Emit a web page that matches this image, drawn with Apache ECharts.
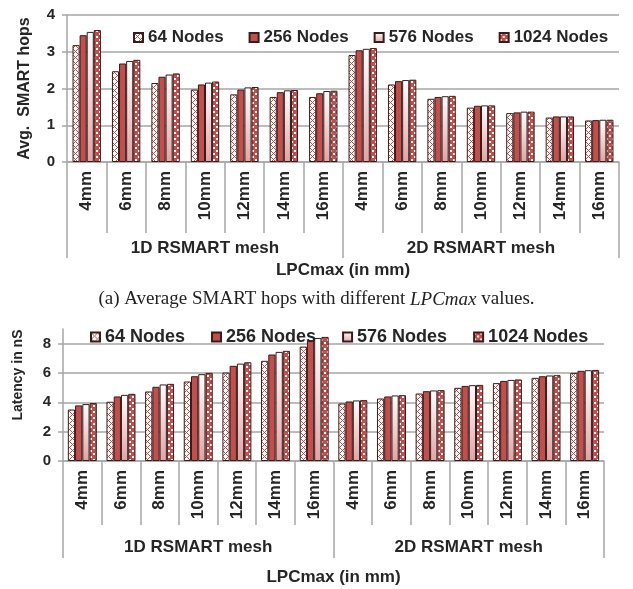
<!DOCTYPE html>
<html><head><meta charset="utf-8">
<script src="https://cdn.jsdelivr.net/npm/echarts@6/dist/echarts.min.js"></script>
<style>html,body{margin:0;padding:0;background:#fff}#c{width:633px;height:589px}</style>
</head><body><div id="c"></div>
<script>
const categories = ['4mm','6mm','8mm','10mm','12mm','14mm','16mm','4mm','6mm','8mm','10mm','12mm','14mm','16mm'];
const groups = ['1D RSMART mesh','2D RSMART mesh'];
const seriesNames = ['64 Nodes','256 Nodes','576 Nodes','1024 Nodes'];
const hops64   = [3.18,2.47,2.15,1.97,1.84,1.77,1.77, 2.91,2.11,1.72,1.48,1.33,1.21,1.13];
const hops256  = [3.45,2.68,2.32,2.11,1.97,1.90,1.87, 3.04,2.20,1.77,1.53,1.35,1.24,1.14];
const hops576  = [3.54,2.75,2.38,2.16,2.03,1.95,1.93, 3.08,2.23,1.79,1.54,1.37,1.24,1.15];
const hops1024 = [3.59,2.78,2.41,2.19,2.04,1.96,1.94, 3.10,2.24,1.80,1.54,1.37,1.24,1.15];
const lat64   = [3.51,4.04,4.74,5.42,6.03,6.83,7.80, 3.92,4.26,4.60,4.99,5.31,5.67,6.01];
const lat256  = [3.79,4.40,5.06,5.78,6.49,7.26,8.23, 4.06,4.40,4.76,5.12,5.46,5.78,6.15];
const lat576  = [3.88,4.51,5.22,5.92,6.64,7.44,8.39, 4.13,4.47,4.81,5.17,5.53,5.83,6.19];
const lat1024 = [3.95,4.58,5.26,6.01,6.73,7.51,8.46, 4.15,4.49,4.83,5.19,5.56,5.85,6.21];

const RED = '#C0504D', DARK = '#3a1a1a', GRID = '#a6a6a6', TXT = '#262626';
const FONT = "'Liberation Sans', Arial, sans-serif";

function pattern(kind){
  const c = document.createElement('canvas');
  c.width = 6; c.height = 6;
  const g = c.getContext('2d');
  if (kind === 'sparse') {
    g.fillStyle = '#fff'; g.fillRect(0,0,6,6);
    g.fillStyle = RED;
    for (let x = 0; x < 6; x++) for (let y = 0; y < 6; y++) {
      if ((x + y) % 6 === 0 || (x - y + 6) % 6 === 0) g.fillRect(x,y,1,1);
    }
  } else {
    g.fillStyle = RED; g.fillRect(0,0,6,6);
    g.fillStyle = '#fff'; g.fillRect(0,0,2,2); g.fillRect(3,3,2,2);
  }
  return {image: c, repeat: 'repeat'};
}
const styles = [
  {color: pattern('sparse'), borderColor: DARK, borderWidth: 1},
  {color: RED, borderColor: DARK, borderWidth: 1},
  {color: {type:'linear', x:0, y:0, x2:0, y2:1, colorStops:[{offset:0,color:'#ffffff'},{offset:1,color:'#e0a3a2'}]}, borderColor: DARK, borderWidth: 1},
  {color: pattern('dense'), borderColor: DARK, borderWidth: 1}
];

function catAxis(gridIndex, tickLen){
  return {type:'category', gridIndex, data: categories, position:'bottom',
    axisLine:{show:true, lineStyle:{color:GRID, width:1.5}},
    axisTick:{show:true, interval:0, length:tickLen, lineStyle:{color:GRID, width:1.5}},
    axisLabel:{interval:0, rotate:90, margin:9, color:TXT, fontFamily:FONT, fontWeight:'bold', fontSize:17}};
}
function groupAxis(gridIndex, tickLen, labelMargin, nameGap){
  return {type:'category', gridIndex, data: groups, position:'bottom',
    axisLine:{show:false},
    axisTick:{show:true, interval:0, length:tickLen, lineStyle:{color:GRID, width:1.5}},
    axisLabel:{interval:0, margin:labelMargin, color:TXT, fontFamily:FONT, fontWeight:'bold', fontSize:17},
    name:'LPCmax (in mm)', nameLocation:'middle', nameGap,
    nameTextStyle:{color:TXT, fontFamily:FONT, fontWeight:'bold', fontSize:17}};
}
function valAxis(gridIndex, max, interval, name, nameSize, nameGap, namePad){
  return {type:'value', gridIndex, min:0, max, interval,
    name, nameLocation:'middle', nameGap, nameRotate:90,
    nameTextStyle:{color:TXT, fontFamily:FONT, fontWeight:'bold', fontSize:nameSize, padding:namePad},
    axisLine:{show:true, lineStyle:{color:GRID, width:1.5}},
    axisTick:{show:true, length:5, lineStyle:{color:GRID, width:1.5}},
    axisLabel:{color:TXT, fontFamily:FONT, fontWeight:'bold', fontSize:15, margin:12, showMaxLabel: max % interval === 0},
    splitLine:{show:true, showMaxLine: max % interval === 0, lineStyle:{color:GRID, width:1.5}}};
}
function bars(data, xi, yi, gap){
  return data.map((d,i)=>({type:'bar', name:seriesNames[i], xAxisIndex:xi, yAxisIndex:yi, data:d,
    barGap:'0%', barCategoryGap:gap, itemStyle:styles[i], emphasis:{disabled:true}}));
}

const chart = echarts.init(document.getElementById('c'), null, {renderer:'canvas'});
chart.setOption({
  animation:false,
  backgroundColor:'#fff',
  title:{text:'(a) Average SMART hops with different {i|LPCmax} values.', left:'center', top:285,
    textStyle:{fontFamily:"'Liberation Serif','Times New Roman',serif", fontWeight:'normal', fontSize:19, color:'#222',
      rich:{i:{fontFamily:"'Liberation Serif','Times New Roman',serif", fontStyle:'italic', fontSize:19, color:'#222'}}}},
  legend:[
    {data:seriesNames, left:128, top:24, itemWidth:9, itemHeight:9, itemGap:25, icon:'rect',
     textStyle:{fontFamily:FONT, fontWeight:'bold', fontSize:17, color:TXT}, selectedMode:false},
    {data:seriesNames, left:85, top:323, itemWidth:9, itemHeight:9, itemGap:26, icon:'rect',
     textStyle:{fontFamily:FONT, fontWeight:'bold', fontSize:18, color:TXT}, selectedMode:false}
  ],
  grid:[
    {left:67, right:14, top:15, height:147},
    {left:63, right:29, top:329, height:132}
  ],
  xAxis:[catAxis(0,71), groupAxis(0,96,78,100), catAxis(1,64), groupAxis(1,97,78,108)],
  yAxis:[valAxis(0,4,1,'Avg.  SMART hops',16,34,[0,0,0,0]), valAxis(1,9,2,'Latency in nS',14,38,[0,0,0,40])],
  series:[...bars([hops64,hops256,hops576,hops1024],0,0,'28%'), ...bars([lat64,lat256,lat576,lat1024],2,1,'25%')]
});
</script></body></html>
